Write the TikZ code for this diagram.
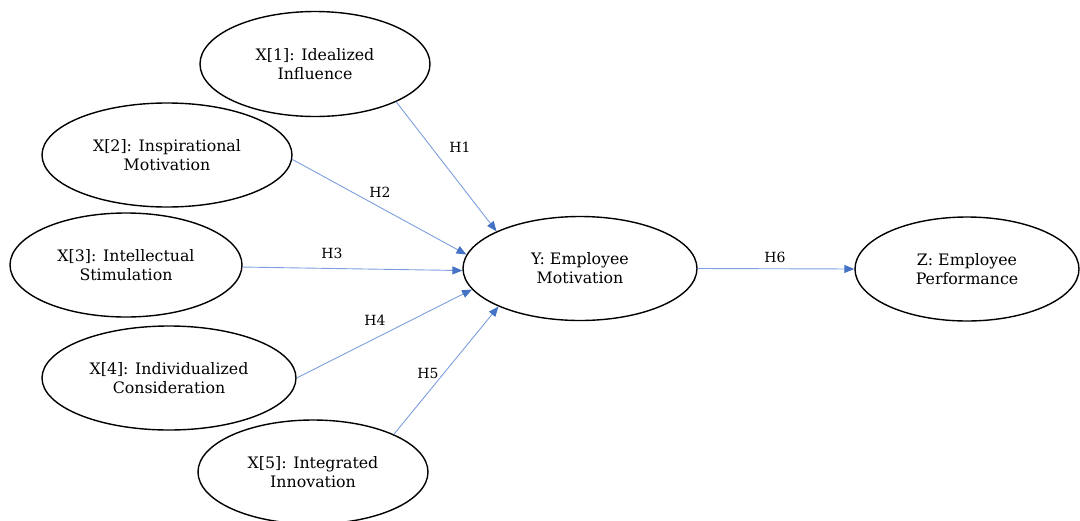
\documentclass[tikz,border=0pt]{standalone}
\usepackage{fontspec}
\setmainfont{DejaVu Serif}
\usetikzlibrary{arrows.meta,shapes.geometric}
\definecolor{lineblue}{RGB}{125,158,222}
\definecolor{tipblue}{RGB}{68,114,196}
\begin{document}
\begin{tikzpicture}[x=1pt,y=-1pt,
  var/.style={ellipse, draw=black, line width=1.4pt, inner sep=0pt, align=center,
              font=\fontsize{15.8}{19}\selectfont},
  hyp/.style={draw=lineblue, line width=0.9pt,
              -{Triangle[length=10pt,width=8pt,color=tipblue]}},
  hlabel/.style={font=\fontsize{14}{16}\selectfont, inner sep=0pt}]
\useasboundingbox (0,0) rectangle (1080,520);
\node[var, minimum width=230pt, minimum height=105pt] (x1) at (315,64) {X[1]: Idealized\\Influence};
\node[var, minimum width=250pt, minimum height=104pt] (x2) at (167,155) {X[2]: Inspirational\\Motivation};
\node[var, minimum width=232pt, minimum height=104pt] (x3) at (126,265) {X[3]: Intellectual\\Stimulation};
\node[var, minimum width=254pt, minimum height=104pt] (x4) at (169,378) {X[4]: Individualized\\Consideration};
\node[var, minimum width=230pt, minimum height=104pt] (x5) at (313,472) {X[5]: Integrated\\Innovation};
\node[var, minimum width=234pt, minimum height=104pt] (y) at (580,268.5) {Y: Employee\\Motivation};
\node[var, minimum width=224pt, minimum height=104pt] (z) at (967,269) {Z: Employee\\Performance};
\draw[hyp] (x1.-25) -- (y.156);
\draw[hyp] (x2.-2) -- (y.173);
\draw[hyp] (x3.-1) -- (y.181);
\draw[hyp] (x4.0) -- (y.191);
\draw[hyp] (x5.25) -- (y.205);
\draw[hyp] (y.0) -- (z.180);
\node[hlabel] (h1) at (460,147) {H1};
\node[hlabel] (h2) at (380,192) {H2};
\node[hlabel] (h3) at (332,253) {H3};
\node[hlabel] (h4) at (375,320) {H4};
\node[hlabel] (h5) at (428,373) {H5};
\node[hlabel] (h6) at (775,257) {H6};
\end{tikzpicture}
\end{document}
